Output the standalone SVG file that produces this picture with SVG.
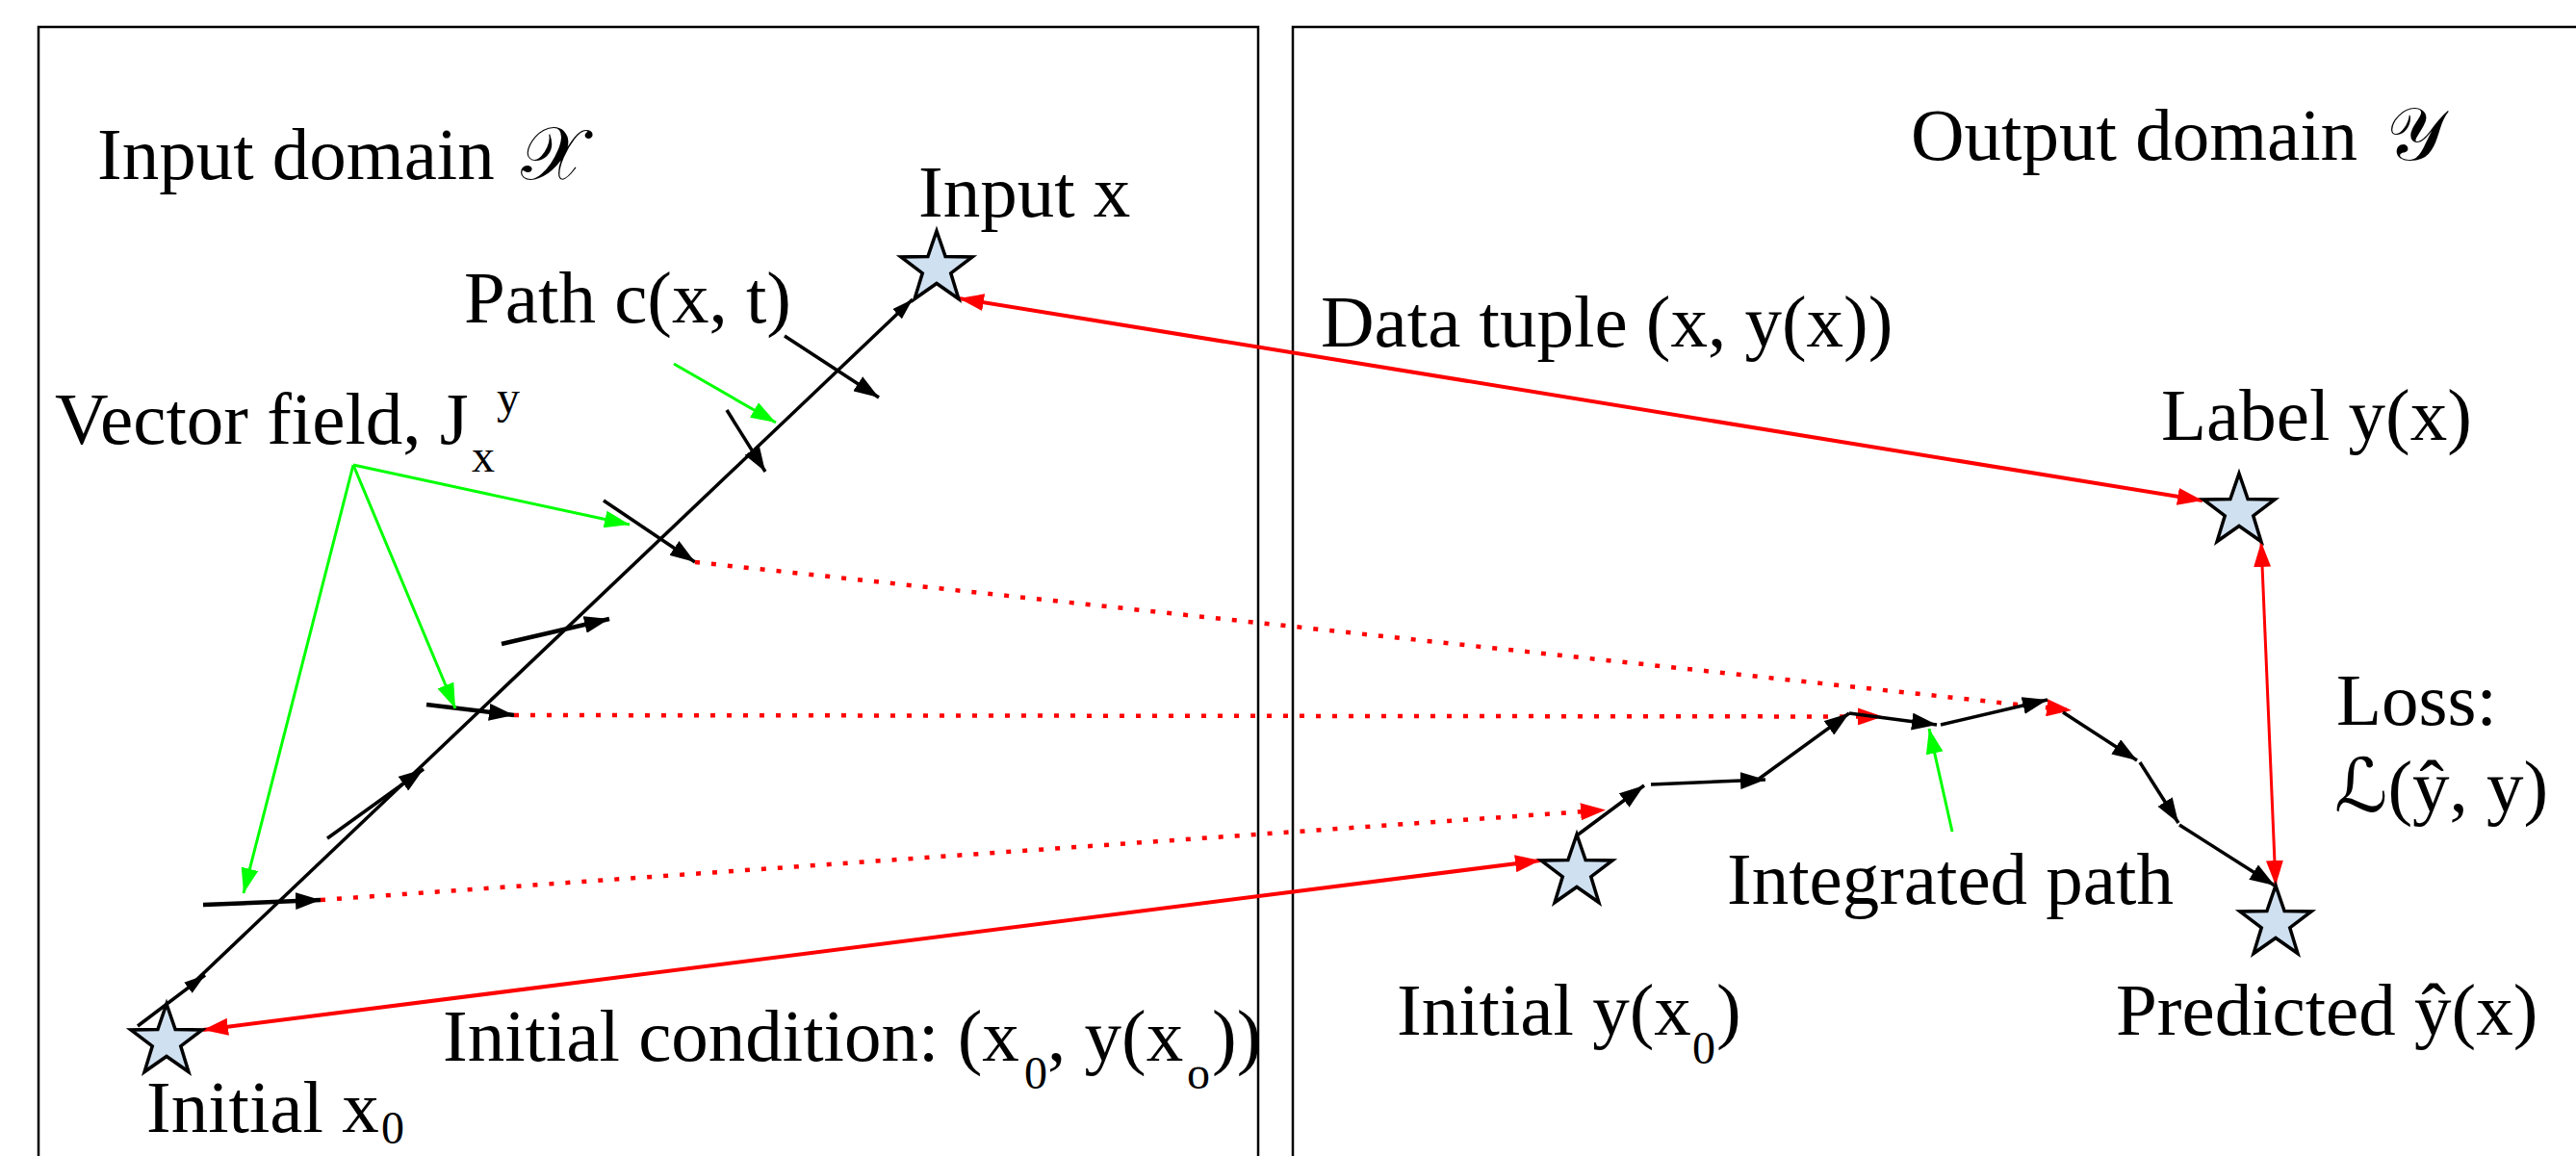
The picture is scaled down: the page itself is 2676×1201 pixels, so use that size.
<svg xmlns="http://www.w3.org/2000/svg" xmlns:xlink="http://www.w3.org/1999/xlink" width="2676" height="1201" viewBox="0 0 2676 1201">
<style>
.t{font-family:"Liberation Serif","DejaVu Serif","DejaVu Sans",serif;font-size:77px;fill:#000}
.s{font-size:48px}
.box{fill:none;stroke:#000;stroke-width:2.5}
.star{fill:#cfe0f1;stroke:#000;stroke-width:3.5;stroke-linejoin:miter}
.blk{fill:none;stroke:#000;stroke-width:3.5}
.vf{fill:none;stroke:#000;stroke-width:4.5}
.grn{fill:none;stroke:#00ff00;stroke-width:3}
.red{fill:none;stroke:#ff0000;stroke-width:4}
.red2{fill:none;stroke:#ff0000;stroke-width:3}
.dot{fill:none;stroke:#ff0000;stroke-width:4.5;stroke-dasharray:5 12}
</style>
<defs>
<path id="starShape" d="M0,-39 L9.11,-12.54 L37.09,-12.05 L14.74,4.79 L22.92,31.55 L0,15.5 L-22.92,31.55 L-14.74,4.79 L-37.09,-12.05 L-9.11,-12.54 Z"/>
<marker id="ab" viewBox="0 0 26 18" refX="26" refY="9" markerWidth="26" markerHeight="18" markerUnits="userSpaceOnUse" orient="auto"><path d="M0,0 L26,9 L0,18 z" fill="#000"/></marker>
<marker id="abs" viewBox="0 0 22 14" refX="22" refY="7" markerWidth="22" markerHeight="14" markerUnits="userSpaceOnUse" orient="auto"><path d="M0,0 L22,7 L0,14 z" fill="#000"/></marker>
<marker id="ag" viewBox="0 0 26 18" refX="26" refY="9" markerWidth="26" markerHeight="18" markerUnits="userSpaceOnUse" orient="auto"><path d="M0,0 L26,9 L0,18 z" fill="#00ff00"/></marker>
<marker id="ar" viewBox="0 0 26 18" refX="26" refY="9" markerWidth="26" markerHeight="18" markerUnits="userSpaceOnUse" orient="auto-start-reverse"><path d="M0,0 L26,9 L0,18 z" fill="#ff0000"/></marker>
</defs>

<g id="frames">
<rect class="box" x="40" y="28" width="1267" height="1250"/>
<rect class="box" x="1343" y="28" width="1400" height="1250"/>
</g>

<g id="connectors">
<!-- input-domain path c(x,t) -->
<line class="blk" x1="143" y1="1066" x2="213" y2="1013" marker-end="url(#abs)"/>
<line class="blk" x1="200" y1="1022" x2="948" y2="311" marker-end="url(#abs)"/>
<!-- vector field arrows -->
<line class="vf" x1="211" y1="940" x2="333" y2="935" marker-end="url(#ab)"/>
<line class="vf" x1="443" y1="732" x2="534" y2="743" marker-end="url(#ab)"/>
<line class="vf" x1="521" y1="669" x2="633" y2="643" marker-end="url(#ab)"/>
<line class="blk" x1="340" y1="871" x2="440" y2="799" marker-end="url(#ab)"/>
<line class="blk" x1="627" y1="520" x2="722" y2="584" marker-end="url(#ab)"/>
<line class="blk" x1="755" y1="426" x2="795" y2="490" marker-end="url(#ab)"/>
<line class="blk" x1="815" y1="349" x2="913" y2="413" marker-end="url(#ab)"/>
<!-- green pointers -->
<line class="grn" x1="367" y1="483" x2="253" y2="928" marker-end="url(#ag)"/>
<line class="grn" x1="367" y1="483" x2="473" y2="736" marker-end="url(#ag)"/>
<line class="grn" x1="367" y1="483" x2="654" y2="545" marker-end="url(#ag)"/>
<line class="grn" x1="700" y1="378" x2="806" y2="439" marker-end="url(#ag)"/>
<line class="grn" x1="2028" y1="864" x2="2004" y2="757" marker-end="url(#ag)"/>
<!-- dotted mappings -->
<line class="dot" x1="722" y1="584" x2="2152" y2="738" marker-end="url(#ar)"/>
<line class="dot" x1="534" y1="743" x2="1956" y2="744.5" marker-end="url(#ar)"/>
<line class="dot" x1="333" y1="935" x2="1668" y2="841.5" marker-end="url(#ar)"/>
<!-- integrated path -->
<line class="blk" x1="1638" y1="868" x2="1708" y2="816" marker-end="url(#ab)"/>
<line class="blk" x1="1715" y1="815" x2="1834" y2="810" marker-end="url(#ab)"/>
<line class="blk" x1="1826" y1="810" x2="1921" y2="741" marker-end="url(#ab)"/>
<line class="blk" x1="1921" y1="741" x2="2012" y2="753" marker-end="url(#ab)"/>
<line class="blk" x1="2016" y1="753" x2="2127" y2="727" marker-end="url(#ab)"/>
<line class="blk" x1="2143" y1="740" x2="2220" y2="790" marker-end="url(#ab)"/>
<line class="blk" x1="2223" y1="792" x2="2263" y2="855" marker-end="url(#ab)"/>
<line class="blk" x1="2264" y1="857" x2="2363" y2="920" marker-end="url(#ab)"/>
<!-- red relations -->
<line class="red" x1="996" y1="310" x2="2288" y2="520" marker-start="url(#ar)" marker-end="url(#ar)"/>
<line class="red" x1="211" y1="1070" x2="1600" y2="894" marker-start="url(#ar)" marker-end="url(#ar)"/>
<line class="red2" x1="2349" y1="563" x2="2364" y2="920" marker-start="url(#ar)" marker-end="url(#ar)"/>
</g>

<g id="node-input-x"><use href="#starShape" class="star" transform="translate(973,279)"/><text class="t" x="954" y="225">Input x</text></g>
<g id="node-initial-x0"><use href="#starShape" class="star" transform="translate(173,1082)"/><text class="t" x="152" y="1176">Initial x<tspan class="s" x="396" y="1188">0</tspan></text></g>
<g id="node-label-y"><use href="#starShape" class="star" transform="translate(2326,531)"/><text class="t" x="2245" y="457">Label y(x)</text></g>
<g id="node-initial-y0"><use href="#starShape" class="star" transform="translate(1638,906)"/><text class="t" x="1451" y="1075">Initial y(x<tspan class="s" x="1758" y="1105">0</tspan><tspan x="1783" y="1075">)</tspan></text></g>
<g id="node-predicted"><use href="#starShape" class="star" transform="translate(2364,959)"/><text class="t" x="2198" y="1075">Predicted ŷ(x)</text></g>

<g id="labels">
<text class="t" x="101" y="186">Input domain <tspan x="541">𝒳</tspan></text>
<text class="t" x="1985" y="166">Output domain <tspan x="2479">𝒴</tspan></text>
<text class="t" x="482" y="335">Path c(x, t)</text>
<text class="t" x="57" y="461">Vector field, J<tspan class="s" x="490" y="490">x</tspan><tspan class="s" x="516" y="429">y</tspan></text>
<text class="t" x="1372" y="360">Data tuple (x, y(x))</text>
<text class="t" x="2427" y="753">Loss:</text>
<text class="t" x="2425" y="843">ℒ(ŷ, y)</text>
<text class="t" x="1794" y="939">Integrated path</text>
<text class="t" x="460" y="1102">Initial condition: (x<tspan class="s" x="1064" y="1131">0</tspan><tspan x="1088" y="1102">, y(x</tspan><tspan class="s" x="1233" y="1131">o</tspan><tspan x="1259" y="1102">))</tspan></text>
</g>
</svg>
